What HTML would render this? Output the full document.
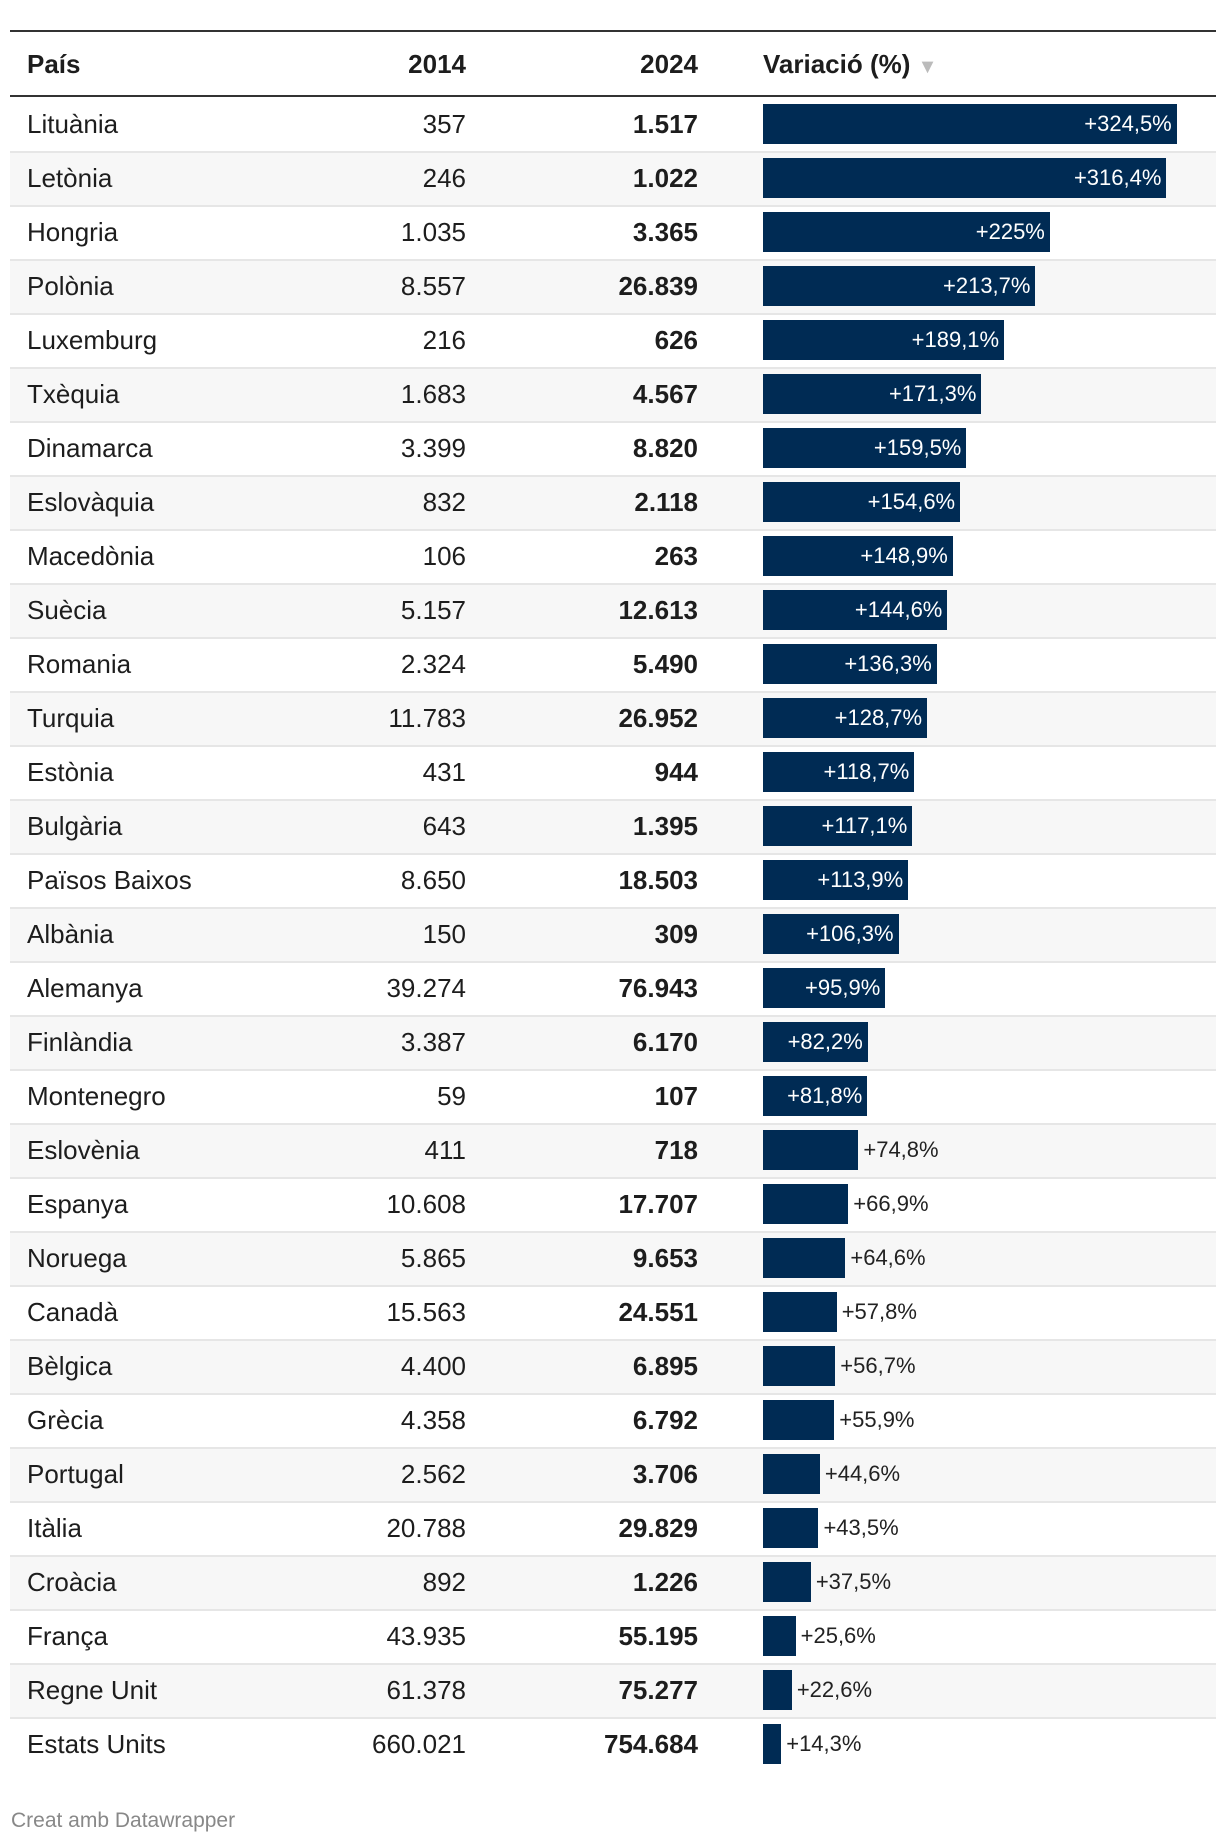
<!DOCTYPE html>
<html><head><meta charset="utf-8">
<style>
body{margin:0;width:1220px;height:1846px;background:#fff;font-family:"Liberation Sans",sans-serif;color:#1d1d1d;position:relative;overflow:hidden}
.abs{position:absolute}
.row{position:absolute;left:10px;width:1206px;height:54px}
.cell{position:absolute;top:0;height:54px;line-height:54px;font-size:26px;white-space:nowrap}
.bar{position:absolute;top:7px;height:40px;background:#002b54}
.lbl{position:absolute;top:7px;height:40px;line-height:40px;font-size:22px;white-space:nowrap}
</style></head><body>
<div class="abs" style="left:10px;top:30px;width:1206px;height:2px;background:#333"></div>
<div class="abs" style="left:10px;top:32px;width:1206px;height:64px;font-weight:bold;font-size:26px">
 <div class="abs" style="left:17px;top:0;line-height:64px">País</div>
 <div class="abs" style="right:750px;top:0;line-height:64px">2014</div>
 <div class="abs" style="right:518px;top:0;line-height:64px">2024</div>
 <div class="abs" style="left:753px;top:0;line-height:64px">Variació (%) <span style="color:#bbb;font-size:20px">▼</span></div>
</div>
<div class="abs" style="left:10px;top:95px;width:1206px;height:2px;background:#333"></div>
<div id="rows"></div>
<div class="abs" style="left:11px;top:1809px;font-size:21px;color:#888">Creat amb Datawrapper</div>
<script>
const countries=["Lituània","Letònia","Hongria","Polònia","Luxemburg","Txèquia","Dinamarca","Eslovàquia","Macedònia","Suècia","Romania","Turquia","Estònia","Bulgària","Països Baixos","Albània","Alemanya","Finlàndia","Montenegro","Eslovènia","Espanya","Noruega","Canadà","Bèlgica","Grècia","Portugal","Itàlia","Croàcia","França","Regne Unit","Estats Units"];
const v2014=["357","246","1.035","8.557","216","1.683","3.399","832","106","5.157","2.324","11.783","431","643","8.650","150","39.274","3.387","59","411","10.608","5.865","15.563","4.400","4.358","2.562","20.788","892","43.935","61.378","660.021"];
const v2024=["1.517","1.022","3.365","26.839","626","4.567","8.820","2.118","263","12.613","5.490","26.952","944","1.395","18.503","309","76.943","6.170","107","718","17.707","9.653","24.551","6.895","6.792","3.706","29.829","1.226","55.195","75.277","754.684"];
const variation=[324.5,316.4,225,213.7,189.1,171.3,159.5,154.6,148.9,144.6,136.3,128.7,118.7,117.1,113.9,106.3,95.9,82.2,81.8,74.8,66.9,64.6,57.8,56.7,55.9,44.6,43.5,37.5,25.6,22.6,14.3];
const rowTop=97,rowH=54,barX=753,pxPerPct=1.275;
const fmt=v=>"+"+String(v).replace(".",",")+"%";
const root=document.getElementById('rows');
countries.forEach((c,i)=>{
 const r=document.createElement('div');r.className='row';
 
 
 r.style.top=(rowTop+i*rowH)+'px';
 r.style.background=i%2?'#f7f7f7':'#fff';
 r.style.borderTop=i?'2px solid #e6e6e6':'none';
 r.style.boxSizing='border-box';
 const a=document.createElement('div');a.className='cell';a.style.left='17px';a.textContent=c;
 
 
 const b=document.createElement('div');b.className='cell';b.style.right='750px';b.textContent=v2014[i];
 
 
 const d=document.createElement('div');d.className='cell';d.style.right='518px';d.style.fontWeight='bold';d.textContent=v2024[i];
 
 
 const w=variation[i]*pxPerPct;
 const bar=document.createElement('div');bar.className='bar';bar.style.left=barX+'px';bar.style.width=w+'px';
 
 
 const l=document.createElement('div');l.className='lbl';l.textContent=fmt(variation[i]);
 
 
 if(variation[i]>=80){l.style.right=(1206-barX-w+5)+'px';l.style.color='#fff';}
 else{l.style.left=(barX+w+5)+'px';l.style.color='#222';}
 [a,b,d,bar,l].forEach(e=>{e.style.marginTop=i?'-2px':'0';r.appendChild(e);});
 root.appendChild(r);
});
</script>
</body></html>
